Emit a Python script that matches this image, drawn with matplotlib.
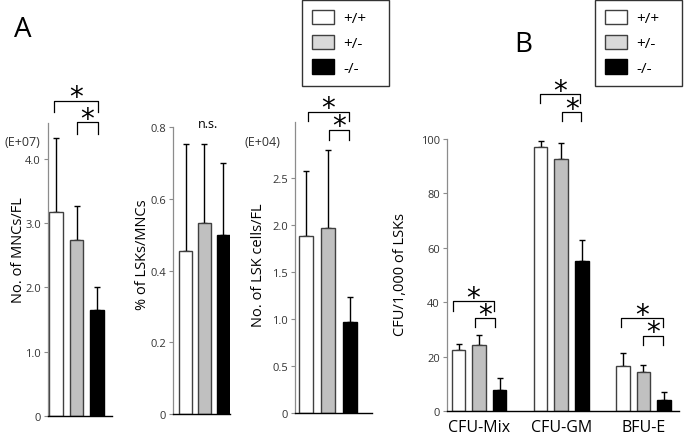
import numpy as np
import matplotlib
matplotlib.use("Agg")
import matplotlib.pyplot as plt
from matplotlib.patches import Patch

plt.rcParams['font.family'] = ['Open Sans', 'DejaVu Sans']

# genotypes
genotypes = ['+/+', '+/-', '-/-']

# Panel A: MNCs per FL (E+07)
mnc_mean = [3.18, 2.73, 1.65]
mnc_err = [1.15, 0.53, 0.35]

# Panel A: % LSKs / MNCs
lsk_pct_mean = [0.454, 0.532, 0.498]
lsk_pct_err = [0.298, 0.222, 0.202]

# Panel A: LSK cells per FL (E+04)
lsk_mean = [1.89, 1.97, 0.97]
lsk_err = [0.69, 0.83, 0.27]

# Panel B: colonies per 1,000 LSKs
colony_types = ['CFU-Mix', 'CFU-GM', 'BFU-E']
cfu_mean = {'+/+': [22.3, 97.2, 16.5],
            '+/-': [24.4, 92.7, 14.3],
            '-/-': [7.6, 55.3, 3.9]}
cfu_err = {'+/+': [2.4, 2.2, 4.9],
           '+/-': [3.4, 5.7, 2.7],
           '-/-': [4.4, 7.7, 3.1]}

bar_colors = ['white', '#c0c0c0', 'black']
legend_colors = ['white', '#d9d9d9', 'black']

W, H = 688, 439
fig = plt.figure(figsize=(W / 100, H / 100), dpi=100)


def px_axes(x0, x1, y_bottom, y_top):
    # axes rectangle from pixel coordinates (top-left origin)
    return fig.add_axes([x0 / W, 1 - y_bottom / H, (x1 - x0) / W, (y_bottom - y_top) / H])


def style(ax):
    for s in ['top', 'right']:
        ax.spines[s].set_visible(False)
    ax.spines['left'].set_color('#8c8c8c')
    ax.spines['left'].set_linewidth(0.9)
    ax.spines['bottom'].set_color('black')
    ax.spines['bottom'].set_linewidth(1.0)
    ax.tick_params(axis='y', direction='out', length=3, width=0.8, color='#8c8c8c',
                   labelsize=8, labelcolor='#333333', pad=2)
    ax.tick_params(axis='x', length=0)


def bars(ax, x, means, errs, width):
    ax.bar(x, means, width=width, color=bar_colors, edgecolor=['#404040', '#404040', 'black'],
           linewidth=1.0, zorder=2)
    ax.errorbar(x, means, yerr=[np.zeros(len(errs)), errs], fmt='none', ecolor='black',
                elinewidth=1.0, capsize=2.5, capthick=1.0, zorder=1)


def bracket(ax, x1, x2, top, leg):
    ax.plot([x1, x1, x2, x2], [leg, top, top, leg], color='black', lw=0.9, clip_on=False)
    ax.annotate('*', xy=((x1 + x2) / 2, top), xytext=(0, 2.5), textcoords='offset points',
                ha='center', va='center', fontsize=20, family='DejaVu Sans',
                annotation_clip=False)


# ---- panel A1 ----
ax1 = px_axes(48, 112, 417, 124.4)
x = np.arange(3)
bars(ax1, x, mnc_mean, mnc_err, 0.68)
ax1.set_xlim(-0.39, 2.73)
ax1.set_ylim(0, 4.55)
ax1.set_yticks([0, 1, 2, 3, 4])
ax1.set_yticklabels(['0', '1.0', '2.0', '3.0', '4.0'])
ax1.set_xticks([])
style(ax1)
bracket(ax1, -0.1, 2.05, 4.90, 4.73)
bracket(ax1, 1.02, 2.05, 4.57, 4.39)
fig.text(22 / W, 1 - 143 / H, '(E+07)', fontsize=9, color='#333333', ha='center', va='center')
fig.text(19 / W, 1 - 250 / H, 'No. of MNCs/FL', rotation=90, fontsize=10.5, ha='center', va='center')

# ---- panel A2 ----
ax2 = px_axes(173, 230, 415, 128)
bars(ax2, x, lsk_pct_mean, lsk_pct_err, 0.69)
ax2.set_xlim(-0.67, 2.37)
ax2.set_ylim(0, 0.8)
ax2.set_yticks([0, 0.2, 0.4, 0.6, 0.8])
ax2.set_yticklabels(['0', '0.2', '0.4', '0.6', '0.8'])
ax2.set_xticks([])
style(ax2)
ax2.text(1.2, 0.81, 'n.s.', ha='center', va='center', fontsize=9, clip_on=False)
fig.text(143 / W, 1 - 255 / H, '% of LSKs/MNCs', rotation=90, fontsize=10.5, ha='center', va='center')

# ---- panel A3 ----
ax3 = px_axes(295, 372, 414, 123)
bars(ax3, x, lsk_mean, lsk_err, 0.64)
ax3.set_xlim(-0.5, 3.0)
ax3.set_ylim(0, 3.1)
ax3.set_yticks([0, 0.5, 1.0, 1.5, 2.0, 2.5])
ax3.set_yticklabels(['0', '0.5', '1.0', '1.5', '2.0', '2.5'])
ax3.set_xticks([])
style(ax3)
bracket(ax3, 0.09, 1.95, 3.21, 3.11)
bracket(ax3, 1.05, 1.95, 3.02, 2.91)
fig.text(262 / W, 1 - 143 / H, '(E+04)', fontsize=9, color='#333333', ha='center', va='center')
fig.text(258 / W, 1 - 265 / H, 'No. of LSK cells/FL', rotation=90, fontsize=10.5, ha='center', va='center')

# ---- panel B ----
ax4 = px_axes(447, 679, 412, 140)
group_x = np.arange(len(colony_types)) * 4
for i, g in enumerate(genotypes):
    xs = group_x + (i - 1)
    ax4.bar(xs, cfu_mean[g], width=0.66, color=bar_colors[i],
            edgecolor='#404040' if i < 2 else 'black', linewidth=1.0, zorder=2)
    ax4.errorbar(xs, cfu_mean[g], yerr=[np.zeros(3), cfu_err[g]], fmt='none', ecolor='black',
                 elinewidth=1.0, capsize=2.5, capthick=1.0, zorder=1)
ax4.set_xlim(-1.56, 9.73)
ax4.set_ylim(0, 100)
ax4.set_yticks([0, 20, 40, 60, 80, 100])
ax4.set_xticks(group_x)
ax4.set_xticklabels(colony_types, fontsize=11.5)
style(ax4)
ax4.tick_params(axis='x', pad=6)
bracket(ax4, -1.27, 0.73, 40.4, 36.8)
bracket(ax4, -0.2, 0.78, 34.2, 30.9)
bracket(ax4, 2.98, 4.93, 116.5, 113.2)
bracket(ax4, 4.05, 4.98, 109.9, 106.6)
bracket(ax4, 6.93, 8.93, 34.2, 30.9)
bracket(ax4, 8.0, 8.93, 27.6, 24.3)
fig.text(400 / W, 1 - 275 / H, 'CFU/1,000 of LSKs', rotation=90, fontsize=10.5, ha='center', va='center')

# panel letters
fig.text(14 / W, 1 - 30 / H, 'A', fontsize=20, ha='left', va='center')
fig.text(514 / W, 1 - 45 / H, 'B', fontsize=20, ha='left', va='center')

# legends
handles = [Patch(facecolor=c, edgecolor='#404040' if c != 'black' else 'black', linewidth=1.0)
           for c in legend_colors]
for x0, x1 in [(302, 389), (595, 682)]:
    leg = fig.legend(handles, genotypes, loc='upper left', mode='expand',
                     bbox_to_anchor=(x0 / W, 1 - 88 / H, (x1 - x0) / W, 87 / H), fontsize=11,
                     frameon=True, fancybox=False, edgecolor='black',
                     handlelength=1.45, handleheight=1.05, handletextpad=0.6,
                     labelspacing=0.55, borderpad=0.65, borderaxespad=0)
    leg.get_frame().set_linewidth(1.0)

fig.savefig('out.png', dpi=100)
